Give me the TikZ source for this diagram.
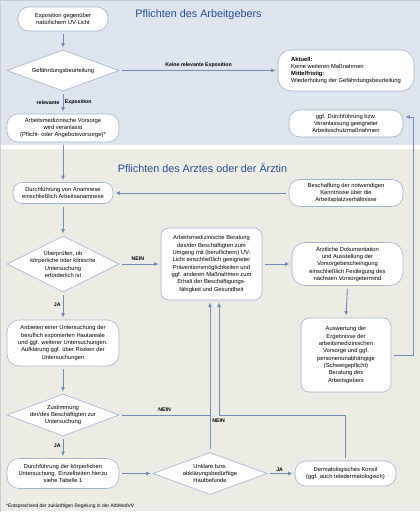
\documentclass[tikz,border=0pt]{standalone}
\usepackage{fontspec}
\setmainfont{Liberation Sans}
\usetikzlibrary{shapes.geometric,arrows.meta}

\definecolor{bgblue}{RGB}{222,229,238}
\definecolor{bgbeige}{RGB}{236,236,228}
\definecolor{boxline}{RGB}{160,180,206}
\definecolor{flowline}{RGB}{112,140,184}
\definecolor{titleblue}{RGB}{38,78,148}
\definecolor{framegray}{RGB}{200,204,210}

\begin{document}
\begin{tikzpicture}[x=1pt,y=-1pt] % UV-Vorsorge
    \tikzset{%
        >={Latex[length=4.5pt,width=4pt]}, % small arrow tips
        box/.style={draw=boxline,fill=white,rounded corners=9pt,align=center,
                inner sep=0pt,line width=0.6pt,font=\fontsize{5.8}{7.3}\selectfont},
        decision/.style={diamond,draw=boxline,fill=white,inner sep=0pt,
                line width=0.6pt},
        dtext/.style={align=center,inner sep=0pt,font=\fontsize{5.8}{7.3}\selectfont},
        flow/.style={draw=flowline,line width=0.9pt,->,shorten >=2pt,shorten <=3pt},
        link/.style={draw=flowline,line width=0.9pt,shorten <=3pt},
        tag/.style={inner sep=1pt,font=\bfseries\fontsize{5.2}{6}\selectfont},
        headline/.style={text=titleblue,font=\fontsize{10.8}{13}\selectfont}
    }

    %% frame and the two bands

    \useasboundingbox (0,0) rectangle (420,512);
    \fill[bgblue] (0,0) rectangle (420,145);
    \fill[white] (0,145) rectangle (420,149);
    \fill[bgbeige] (0,149) rectangle (420,511);
    \draw[framegray,line width=0.5pt] (0.25,0.25) rectangle (419.75,511.75);

    \node[headline] (titleAG) at (198.5,15) {Pflichten des Arbeitgebers};
    \node[headline] (titleArzt) at (202.5,168) {Pflichten des Arztes oder der Ärztin};

    %% Arbeitgeber

    \node[box,minimum width=90pt,minimum height=24pt,rounded corners=11pt] (expo) at (63,19)
        {Exposition gegenüber\\natürlichem UV-Licht};
    \node[decision,minimum width=112pt,minimum height=41pt,
        label={[dtext]center:Gefährdungsbeurteilung}] (gefahr) at (63,70.5) {};
    \node[box,minimum width=136pt,minimum height=41pt,rounded corners=13pt,align=left] (aktuell)
        at (346,70.5) {\textbf{Aktuell:}\\Keine weiteren Maßnahmen\\\textbf{Mittelfristig:}\\
        Wiederholung der Gefährdungsbeurteilung};
    \node[box,minimum width=112pt,minimum height=28pt,rounded corners=11pt] (vorsorge) at (63,128)
        {Arbeitsmedizinische Vorsorge\\wird veranlasst\\(Pflicht- oder Angebotsvorsorge)*};
    \node[box,minimum width=114pt,minimum height=27pt,rounded corners=11pt] (schutz) at (346,123.5)
        {ggf. Durchführung bzw.\\Veranlassung geeigneter\\Arbeitsschutzmaßnahmen};

    %% Arzt oder Ärztin

    \node[box,minimum width=100pt,minimum height=21pt] (anamnese) at (63,193)
        {Durchführung von Anamnese\\einschließlich Arbeitsanamnese};
    \node[box,minimum width=114pt,minimum height=27pt,rounded corners=11pt] (kenntnis) at (346,193)
        {Beschaffung der notwendigen\\Kenntnisse über die\\Arbeitsplatzverhältnisse};
    \node[decision,minimum width=112pt,minimum height=56pt,
        label={[dtext]center:{Überprüfen, ob\\körperliche oder klinische\\Untersuchung\\erforderlich ist}}]
        (pruefen) at (63,264) {};
    \node[box,minimum width=101pt,minimum height=72pt,rounded corners=8pt] (beratung) at (211.5,264)
        {Arbeitsmedizinische Beratung\\des/der Beschäftigten zum\\Umgang mit (beruflichem) UV-\\
        Licht einschließlich geeigneter\\Präventionsmöglichkeiten und\\ggf. anderen Maßnahmen zum\\
        Erhalt der Beschäftigungs-\\fähigkeit und Gesundheit};
    \node[box,minimum width=111pt,minimum height=43pt,rounded corners=13pt] (doku) at (347.5,264)
        {Ärztliche Dokumentation\\und Ausstellung der\\Vorsorgebescheinigung\\
        einschließlich Festlegung des\\nächsten Vorsorgetermind};
    \node[box,minimum width=90pt,minimum height=74pt,rounded corners=8pt] (auswertung) at (346,355)
        {Auswertung der\\Ergebnisse der\\arbeitsmedizinischen\\Vorsorge und ggf.\\
        personenunabhängige\\(Schweigepflicht)\\Beratung des\\Arbeitsgebers};
    \node[box,minimum width=112pt,minimum height=46pt,rounded corners=12pt] (anbieten) at (63,343)
        {Anbieten einer Untersuchung der\\beruflich exponierten Hautareale\\
        und ggf. weiterer Untersuchungen.\\Aufklärung ggf. über Risiken der\\Untersuchungen};
    \node[decision,minimum width=112pt,minimum height=42pt,
        label={[dtext]center:{Zustimmung\\der/des Beschäftigten zur\\Untersuchung}}]
        (zustimmung) at (63,415) {};
    \node[box,minimum width=112pt,minimum height=30pt,rounded corners=12pt] (koerper) at (63,473.5)
        {Durchführung der körperlichen\\Untersuchung. Einzelheiten hierzu\\siehe Tabelle 1};
    \node[decision,minimum width=114pt,minimum height=42pt,
        label={[dtext]center:{Unklare bzw.\\abklärungsbedürftige\\Hautbefunde}}]
        (unklar) at (210,473.5) {};
    \node[box,minimum width=101pt,minimum height=25pt,rounded corners=11pt] (konsil) at (345.5,473.5)
        {Dermatologisches Konsil\\(ggf. auch teledermatologisch)};

    \node[anchor=west,inner sep=0pt,font=\fontsize{4.9}{6}\selectfont] (fussnote) at (6,506)
        {*Entsprechend der zukünftigen Regelung in der ArbMedVV};

    %% turning points of the long connectors

    \coordinate (rail) at (413,117);
    \coordinate (bend) at (219,415);

    %% connectors

    \draw[flow] (expo) -- (gefahr);
    \draw[flow] (gefahr.east) -- (aktuell.west)
        node[tag,midway,above=1pt] (keine) {Keine relevante Exposition};
    \draw[flow] (gefahr.south) -- (vorsorge.north)
        node[tag,pos=0.5,left=2pt] (relevant) {relevante}
        node[tag,pos=0.5,right=0.5pt] (expos) {Exposition};
    \draw[flow] (vorsorge.south) -- (anamnese.north);
    \draw[flow] (kenntnis.west) -- (anamnese.east);
    \draw[flow] (anamnese.south) -- (pruefen.north);
    \draw[flow] (pruefen.east) -- (beratung.west)
        node[tag,pos=0.45,above=2pt] (nein1) {NEIN};
    \draw[flow] (pruefen.south) -- (anbieten.north)
        node[tag,pos=0.45,left=1pt] (ja1) {JA};
    \draw[flow] (anbieten.south) -- (zustimmung.north);
    \draw[flow] (zustimmung.south) -- (koerper.north)
        node[tag,pos=0.45,left=1pt] (ja2) {JA};
    \draw[link] (zustimmung.east) -- (zustimmung.east -| unklar.north)
        node[tag,pos=0.5,above=2pt] (nein2) {NEIN};
    \draw[flow] (unklar.north) -- (unklar.north |- beratung.south)
        node[tag,pos=0.21,right=1pt] (nein3) {NEIN};
    \draw[flow] (koerper.east) -- (unklar.west);
    \draw[flow] (unklar.east) -- (konsil.west)
        node[tag,pos=0.45,above=1pt] (ja3) {JA};
    \draw[flow] (konsil.north) |- (bend) -- (bend |- beratung.south);
    \draw[flow] (beratung.east) -- (doku.west);
    \draw[flow] (doku.south) -- (auswertung.north);
    \draw[flow] (auswertung.east) -| (rail) -- (rail -| schutz.east);
\end{tikzpicture}
\end{document}
